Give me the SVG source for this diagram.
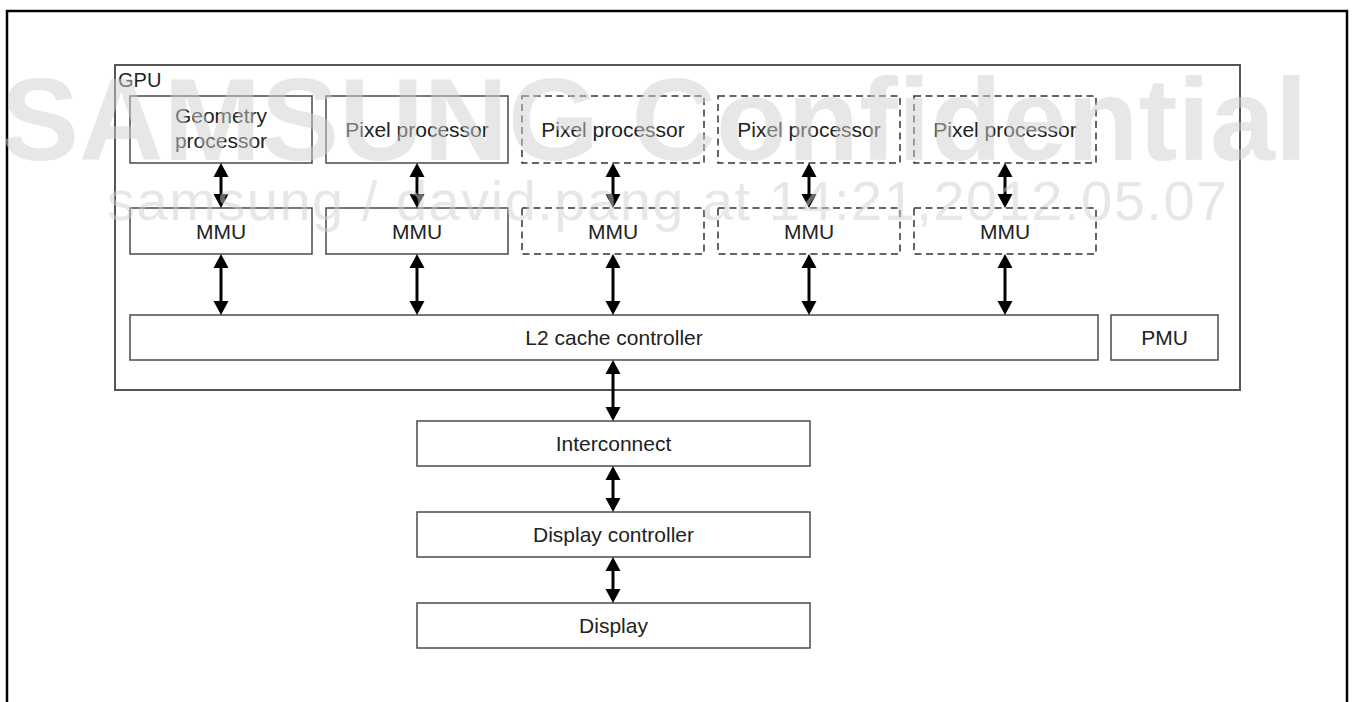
<svg xmlns="http://www.w3.org/2000/svg" width="1353" height="702" viewBox="0 0 1353 702">
<style>
.box{fill:none;stroke:#4a4a4a;stroke-width:1.5}
.dash{fill:none;stroke:#333;stroke-width:1.5;stroke-dasharray:7 4.5}
.lbl{font-family:"Liberation Sans",Arial,sans-serif;font-size:21px;fill:#222;text-anchor:middle}
.arr{stroke:#000;stroke-width:3;fill:none;marker-start:url(#ah);marker-end:url(#ah)}
.wm1{font-family:"Liberation Sans",Arial,sans-serif;font-weight:bold;font-size:117px;fill:#cfcfcf;fill-opacity:0.5}
.wm2{font-family:"Liberation Sans",Arial,sans-serif;font-size:56px;fill:#cfcfcf;fill-opacity:0.5;letter-spacing:1.5px}
</style>
<defs>
<marker id="ah" markerUnits="userSpaceOnUse" markerWidth="16" markerHeight="16" refX="7" refY="8" orient="auto-start-reverse" viewBox="0 0 16 16">
<path d="M0,0.5 L14,8 L0,15.5 z" fill="#000"/>
</marker>
</defs>
<rect x="0" y="0" width="1353" height="702" fill="#fff"/>
<rect id="frame" x="7" y="11" width="1340" height="720" fill="none" stroke="#000" stroke-width="2.5"/>
<g id="gpu">
<rect x="115" y="65" width="1125" height="325" fill="none" stroke="#555" stroke-width="2"/>
<text x="118" y="87" font-family="Liberation Sans, Arial, sans-serif" font-size="20" fill="#222">GPU</text>
</g>
<g id="geometry-processor">
<rect class="box" x="130" y="96" width="182" height="67"/>
<text class="lbl" x="221" y="123">Geometry</text>
<text class="lbl" x="221" y="148">processor</text>
</g>
<g id="pixel-processor-1"><rect class="box" x="326" y="96" width="182" height="67"/><text class="lbl" x="417" y="137">Pixel processor</text></g>
<g id="pixel-processor-2"><rect class="dash" x="522" y="96" width="182" height="67"/><text class="lbl" x="613" y="137">Pixel processor</text></g>
<g id="pixel-processor-3"><rect class="dash" x="718" y="96" width="182" height="67"/><text class="lbl" x="809" y="137">Pixel processor</text></g>
<g id="pixel-processor-4"><rect class="dash" x="914" y="96" width="182" height="67"/><text class="lbl" x="1005" y="137">Pixel processor</text></g>
<g id="mmu-1"><rect class="box" x="130" y="208" width="182" height="46"/><text class="lbl" x="221" y="238.5">MMU</text></g>
<g id="mmu-2"><rect class="box" x="326" y="208" width="182" height="46"/><text class="lbl" x="417" y="238.5">MMU</text></g>
<g id="mmu-3"><rect class="dash" x="522" y="208" width="182" height="46"/><text class="lbl" x="613" y="238.5">MMU</text></g>
<g id="mmu-4"><rect class="dash" x="718" y="208" width="182" height="46"/><text class="lbl" x="809" y="238.5">MMU</text></g>
<g id="mmu-5"><rect class="dash" x="914" y="208" width="182" height="46"/><text class="lbl" x="1005" y="238.5">MMU</text></g>
<g id="l2-cache"><rect class="box" x="130" y="315" width="968" height="45"/><text class="lbl" x="614" y="345">L2 cache controller</text></g>
<g id="pmu"><rect class="box" x="1111" y="315" width="107" height="45"/><text class="lbl" x="1164.5" y="345">PMU</text></g>
<g id="interconnect"><rect class="box" x="417" y="421" width="393" height="45"/><text class="lbl" x="613.5" y="451">Interconnect</text></g>
<g id="display-controller"><rect class="box" x="417" y="512" width="393" height="45"/><text class="lbl" x="613.5" y="542">Display controller</text></g>
<g id="display"><rect class="box" x="417" y="603" width="393" height="45"/><text class="lbl" x="613.5" y="633">Display</text></g>
<g id="connectors">
<line class="arr" x1="221" y1="170" x2="221" y2="201"/>
<line class="arr" x1="417" y1="170" x2="417" y2="201"/>
<line class="arr" x1="613" y1="170" x2="613" y2="201"/>
<line class="arr" x1="809" y1="170" x2="809" y2="201"/>
<line class="arr" x1="1005" y1="170" x2="1005" y2="201"/>
<line class="arr" x1="221" y1="261" x2="221" y2="308"/>
<line class="arr" x1="417" y1="261" x2="417" y2="308"/>
<line class="arr" x1="613" y1="261" x2="613" y2="308"/>
<line class="arr" x1="809" y1="261" x2="809" y2="308"/>
<line class="arr" x1="1005" y1="261" x2="1005" y2="308"/>
<line class="arr" x1="613" y1="367" x2="613" y2="414"/>
<line class="arr" x1="613" y1="473" x2="613" y2="505"/>
<line class="arr" x1="613" y1="564" x2="613" y2="596"/>
</g>
<g id="watermark">
<text class="wm1" x="1" y="160">SAMSUNG Confidential</text>
<text class="wm2" x="107" y="220">samsung / david.pang at 14:21,2012.05.07</text>
</g>
</svg>
